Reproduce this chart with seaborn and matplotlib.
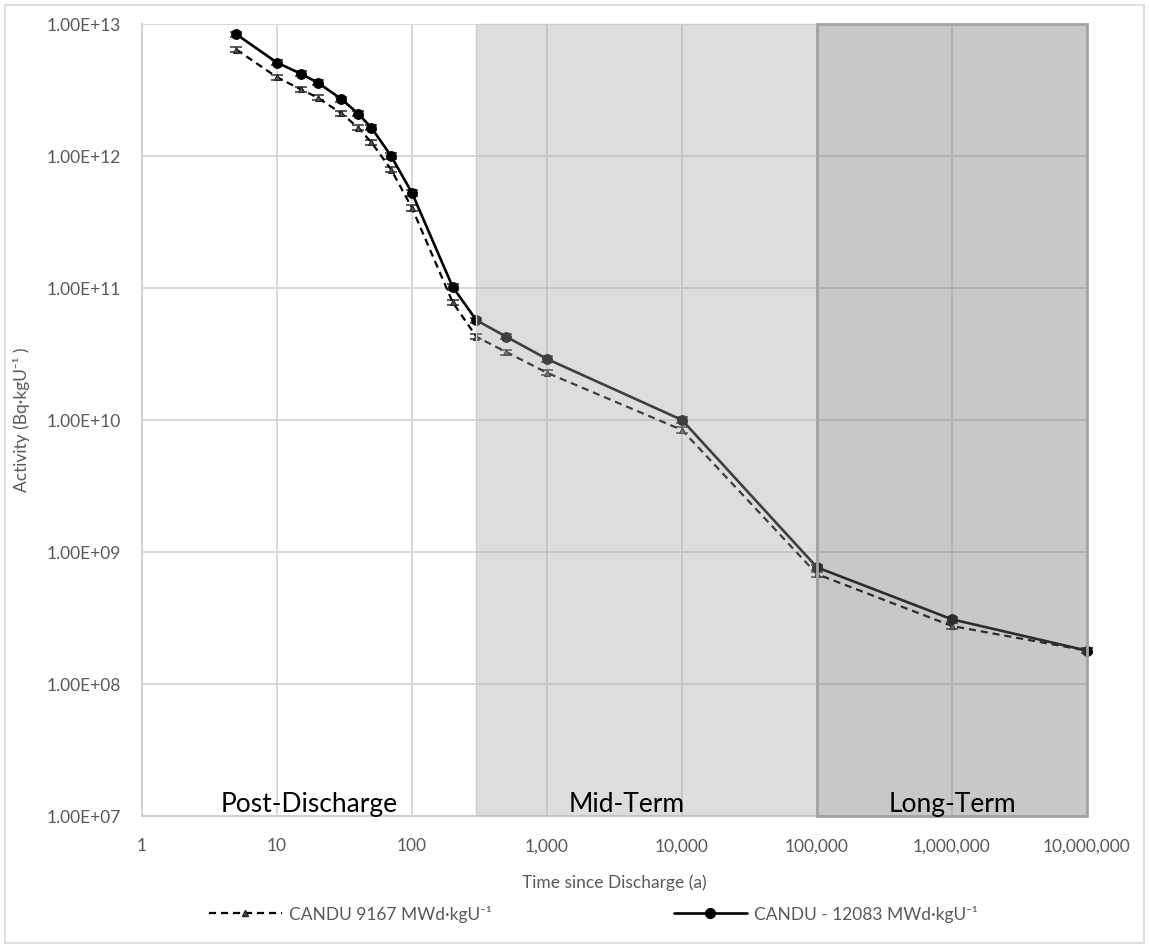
import matplotlib
matplotlib.use("Agg")
import numpy as np
import pandas as pd
import matplotlib.pyplot as plt
import seaborn as sns
from matplotlib.ticker import FuncFormatter, FixedLocator, NullLocator
from matplotlib.patches import Rectangle
from matplotlib.lines import Line2D

# ---------------- data ----------------
time_a = [5, 10, 15, 20, 30, 40, 50, 70, 100, 200, 300, 500, 1000, 10000,
          100000, 1000000, 10000000]
act_9167 = [6.4e12, 3.95e12, 3.2e12, 2.77e12, 2.1e12, 1.64e12, 1.27e12, 7.9e11,
            4.04e11, 7.8e10, 4.27e10, 3.27e10, 2.28e10, 8.4e9, 6.8e8, 2.75e8, 1.79e8]
act_12083 = [8.35e12, 5.1e12, 4.2e12, 3.6e12, 2.7e12, 2.09e12, 1.64e12, 1.0e12,
             5.25e11, 1.02e11, 5.7e10, 4.27e10, 2.9e10, 1.0e10, 7.65e8, 3.09e8, 1.79e8]
rel_err = 0.045
series_labels = ["CANDU 9167 MWd\u00b7kgU\u207b\u00b9", "CANDU - 12083 MWd\u00b7kgU\u207b\u00b9"]
region_names = ["Post-Discharge", "Mid-Term", "Long-Term"]
region_bounds = [(1, 300), (300, 1e5), (1e5, 1e7)]
region_text_x = [17.3, 3900, 1.0e6]
x_ticks = [1, 10, 100, 1000, 10000, 100000, 1000000, 10000000]
y_ticks = [1e7, 1e8, 1e9, 1e10, 1e11, 1e12, 1e13]
x_label = "Time since Discharge (a)"
y_label = "Activity (Bq\u00b7kgU\u207b\u00b9 )"

df = pd.concat([
    pd.DataFrame({"t": time_a, "a": act_9167, "s": series_labels[0]}),
    pd.DataFrame({"t": time_a, "a": act_12083, "s": series_labels[1]}),
], ignore_index=True)

# ---------------- style ----------------
sns.set_style("white")
plt.rcParams["font.family"] = ["Lato", "DejaVu Sans"]

W, H = 1149, 947
fig = plt.figure(figsize=(W / 100, H / 100), dpi=100)
L, R, T, B = 142, 1087, 24, 816
ax = fig.add_axes([L / W, 1 - B / H, (R - L) / W, (B - T) / H])

# figure border
fig.add_artist(Rectangle((5 / W, 4 / H), (W - 10) / W, (H - 9) / H,
                         transform=fig.transFigure, fill=False,
                         edgecolor="#d9d9d9", lw=1.2))

d1 = df[df["s"] == series_labels[0]]
d2 = df[df["s"] == series_labels[1]]

sns.lineplot(data=d1, x="t", y="a", ax=ax, color="black", lw=1.6,
             linestyle=(0, (3.2, 2.2)), marker="^", markersize=4.5,
             markeredgecolor="#202020", markerfacecolor="#505050",
             errorbar=None, legend=False, clip_on=False, zorder=3)
sns.lineplot(data=d2, x="t", y="a", ax=ax, color="black", lw=1.9,
             marker="o", markersize=7, markeredgecolor="black",
             errorbar=None, legend=False, clip_on=False, zorder=4)

for d, z in [(d1, 2.5), (d2, 2.6)]:
    a = np.asarray(d["a"])
    ax.errorbar(d["t"], a, yerr=[a * rel_err, a * rel_err], fmt="none",
                ecolor="#404040", elinewidth=0.9, capsize=4, capthick=1.2,
                zorder=z, clip_on=False)

ax.set_xscale("log")
ax.set_yscale("log")
ax.set_xlim(1, 1e7)
ax.set_ylim(1e7, 1e13)

# region shading drawn over the lines (semi-transparent)
ax.axvspan(*region_bounds[1], facecolor="#a7a7a7", alpha=0.38, lw=0, zorder=5)
ax.axvspan(*region_bounds[2], facecolor="#737373", alpha=0.39, lw=0, zorder=5)
ax.add_patch(Rectangle((region_bounds[2][0], 0), region_bounds[2][1] - region_bounds[2][0], 1,
                       transform=ax.get_xaxis_transform(), fill=False,
                       edgecolor="#a3a3a3", lw=2.0, zorder=6, clip_on=False))
ax.add_patch(Rectangle((region_bounds[1][0], 0), region_bounds[1][1] - region_bounds[1][0], 1,
                       transform=ax.get_xaxis_transform(), fill=False,
                       edgecolor="#cfcfcf", lw=1.0, zorder=5.5, clip_on=False))

for name, xt in zip(region_names, region_text_x):
    ax.text(xt, 0.005, name, transform=ax.get_xaxis_transform(), ha="center",
            va="baseline", fontsize=19, color="black", zorder=7)

# axes & ticks
ax.xaxis.set_major_locator(FixedLocator(x_ticks))
ax.yaxis.set_major_locator(FixedLocator(y_ticks))
ax.xaxis.set_minor_locator(NullLocator())
ax.yaxis.set_minor_locator(NullLocator())
ax.xaxis.set_major_formatter(FuncFormatter(lambda v, p: f"{int(round(v)):,}"))
ax.yaxis.set_major_formatter(FuncFormatter(lambda v, p: f"{v:.2E}"))
ax.tick_params(axis="both", length=0, labelsize=12.5, labelcolor="#595959")
ax.tick_params(axis="x", pad=16)
ax.tick_params(axis="y", pad=15)
ax.grid(True, which="major", color="#d9d9d9", lw=1.4)
ax.set_axisbelow(True)
for s in ["top", "right"]:
    ax.spines[s].set_visible(False)
for s in ["left", "bottom"]:
    ax.spines[s].set_color("#d0d0d0")
    ax.spines[s].set_linewidth(1.4)
ax.set_xlabel("")
ax.set_ylabel("")

fig.text((L + R) / 2 / W, 1 - 883 / H, x_label, ha="center", va="center",
         fontsize=12.5, color="#595959")
fig.text(22 / W, 1 - 420 / H, y_label, ha="center", va="center",
         rotation=90, fontsize=12.5, color="#595959")

handles = [
    Line2D([], [], color="black", lw=1.6, linestyle=(0, (3.2, 2.2)), marker="^",
           markersize=4.5, markeredgecolor="#202020", markerfacecolor="#505050"),
    Line2D([], [], color="black", lw=1.9, marker="o", markersize=7),
]
fig.legend(handles, series_labels, loc="center", bbox_to_anchor=(593 / W, 1 - 914 / H),
           ncol=2, frameon=False, fontsize=12.5, handlelength=4.2,
           columnspacing=10.5, handletextpad=0.4, labelcolor="#595959")

fig.savefig("out.png", dpi=100)
